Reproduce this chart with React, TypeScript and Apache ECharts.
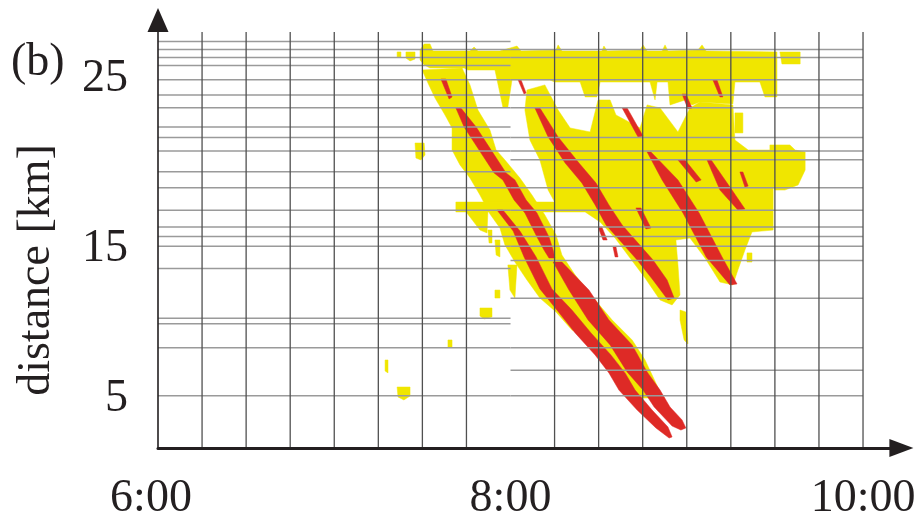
import React, { useEffect, useRef } from 'react';
import * as echarts from 'echarts';

const FONT = '"Liberation Serif", "Times New Roman", serif';
const INK = '#231f20';
const YELLOW = '#f0e600';
const RED = '#de2a26';

// axis ranges (time in minutes after midnight, distance in km)
const T_MIN = 360;
const T_MAX = 610;
const KM_MIN = 1.6875;
const KM_MAX = 27.6875;

const timeLabelValues = [360, 480, 600];
const gridLineTimes = [375, 390, 405, 420, 435, 450, 465, 495, 510, 525, 540, 555, 570, 585, 600];
const distanceLabelValues = [5, 15, 25];

// detector positions [km]
const detectorsBefore8 = [27.1, 26.6, 26.1, 25.6, 24.7, 23.75, 22.95, 21.75, 21.1, 20.25, 18.95, 17.95, 16.55, 15.5, 14.9, 14.3, 12.9, 9.8, 9.45, 7.95, 4.95];
const detectorsAfter8 = [26.6, 26.1, 24.7, 23.75, 22.95, 21.1, 20.25, 19.7, 17.95, 16.55, 15.5, 14.9, 14.3, 13.4, 11.05, 7.95, 6.55, 4.95];

// red (jam) regions: [time min, km]
const redA1 = [[456.3, 24.75], [458.0, 24.75], [460.1, 23.63], [459.1, 23.5]];
const redA = [[461.4, 22.94], [464.2, 21.75], [469.3, 20.31], [474.4, 18.88], [477.4, 18.44], [481.2, 17.19], [484.9, 16.38], [489.0, 14.88], [491.4, 14.06], [493.1, 13.56], [495.1, 13.56], [494.5, 14.06], [493.1, 14.88], [489.0, 16.38], [485.3, 17.19], [481.5, 18.44], [478.5, 18.88], [473.4, 20.31], [468.3, 21.75], [463.1, 22.94]];
const redB = [[475.4, 16.56], [480.9, 15.25], [484.6, 13.63], [490.0, 11.63], [495.8, 10.31], [502.0, 8.88], [508.8, 7.5], [513.5, 6.38], [516.9, 5.31], [523.1, 4.06], [529.5, 2.94], [534.0, 2.31], [535.0, 2.38], [533.6, 3.0], [528.2, 4.06], [522.4, 5.31], [519.0, 6.38], [514.2, 7.5], [507.4, 8.88], [500.9, 10.31], [494.1, 11.63], [488.7, 13.63], [483.2, 15.25], [477.4, 16.56]];
const redC = [[494.5, 13.31], [499.9, 11.56], [506.4, 9.69], [513.9, 8.13], [519.7, 6.44], [525.1, 5.31], [528.9, 4.25], [535.0, 3.06], [538.0, 2.81], [539.7, 2.94], [538.4, 3.44], [534.3, 4.25], [530.9, 5.31], [526.5, 6.44], [521.4, 8.13], [513.5, 9.69], [506.7, 11.56], [497.5, 13.31]];
const redD = [[488.3, 22.94], [492.8, 21.13], [498.6, 19.5], [504.3, 18.25], [508.8, 16.88], [512.5, 15.63], [518.0, 14.5], [523.1, 13.44], [528.5, 12.19], [533.6, 10.94], [535.7, 11.06], [533.3, 12.19], [528.5, 13.44], [523.4, 14.5], [518.0, 15.63], [513.5, 16.88], [509.1, 18.25], [503.3, 19.5], [496.2, 21.13], [490.0, 22.94]];
const redE = [[518.0, 22.94], [519.7, 22.94], [525.1, 21.19], [523.4, 21.13]];
const redF = [[526.5, 20.19], [531.6, 18.44], [538.7, 16.38], [546.6, 13.63], [554.7, 11.88], [557.1, 11.94], [552.0, 13.63], [544.2, 16.38], [537.0, 18.44], [527.8, 20.19]];
const redG = [[546.9, 19.69], [551.3, 17.81], [557.4, 16.56], [559.8, 16.63], [555.4, 17.81], [548.3, 19.69]];
const redH = [[537.0, 19.69], [539.4, 19.69], [544.9, 18.44], [543.2, 18.31]];
const redI = [[558.1, 18.94], [559.1, 18.94], [560.9, 18.06], [559.8, 18.0]];
const redJ = [[522.7, 16.69], [524.4, 16.69], [527.8, 15.44], [526.1, 15.38]];
const redK = [[509.8, 15.5], [511.1, 15.5], [512.9, 14.69], [511.5, 14.69]];
const redL = [[514.9, 14.25], [515.9, 14.25], [516.6, 13.63], [515.6, 13.63]];
const redN = [[538.4, 23.81], [539.7, 23.81], [541.8, 22.94], [540.4, 22.88]];
const redO = [[548.9, 24.69], [550.3, 24.69], [552.3, 23.63], [551.3, 23.63]];
const redP = [[482.6, 24.69], [483.6, 24.69], [485.3, 23.88], [484.6, 23.81]];

// yellow (synchronized traffic) regions: [time min, km]
const yellowTop = [[449.2, 26.56], [450.6, 26.94], [452.6, 26.94], [453.6, 26.5], [466.2, 26.5], [467.6, 26.75], [468.9, 26.5], [476.4, 26.5], [482.2, 26.81], [483.6, 26.5], [495.5, 26.56], [496.2, 26.88], [497.5, 26.5], [511.1, 26.5], [511.8, 26.81], [512.9, 26.5], [524.1, 26.56], [525.1, 26.88], [526.5, 26.5], [531.6, 26.5], [532.6, 26.88], [533.6, 26.5], [543.8, 26.56], [545.2, 26.88], [546.6, 26.5], [570.7, 26.44], [570.7, 23.63], [566.6, 23.63], [564.9, 24.56], [556.4, 24.56], [555.7, 23.19], [544.5, 23.31], [541.8, 23.13], [539.4, 23.44], [534.3, 23.13], [533.6, 24.56], [529.9, 24.56], [529.2, 23.44], [527.5, 24.56], [510.5, 24.56], [509.4, 23.63], [505.4, 23.63], [503.7, 24.56], [495.1, 24.56], [493.4, 24.69], [480.5, 24.69], [479.1, 23.0], [477.4, 23.0], [474.7, 25.31], [465.5, 25.31], [464.2, 25.44], [452.6, 25.44], [450.6, 25.63], [449.2, 25.94]];
const yellowTopRight = [[571.7, 26.44], [578.6, 26.44], [578.6, 25.69], [572.4, 25.69]];
const yellowDiagonal = [[463.5, 25.44], [466.2, 24.38], [468.9, 22.81], [473.0, 21.56], [475.1, 20.31], [478.1, 19.69], [483.2, 18.56], [487.3, 17.5], [491.7, 16.25], [495.5, 15.0], [497.5, 13.75], [502.0, 12.5], [508.8, 10.94], [514.6, 9.69], [521.4, 8.44], [525.8, 7.19], [528.2, 6.25], [530.9, 5.19], [532.3, 4.81], [524.1, 4.81], [521.4, 5.31], [519.0, 6.38], [514.2, 7.5], [509.4, 8.44], [500.9, 9.06], [495.5, 10.19], [490.0, 11.06], [485.6, 12.19], [481.5, 13.31], [478.1, 14.38], [476.4, 15.44], [473.0, 16.31], [469.6, 17.5], [466.2, 18.56], [462.8, 19.38], [460.1, 20.31], [460.1, 21.69], [457.7, 22.5], [454.3, 23.56], [451.9, 24.5], [449.9, 25.31]];
const yellowBar = [[461.4, 17.06], [496.9, 17.06], [496.9, 16.44], [461.4, 16.44]];
const yellowWedge = [[464.9, 16.44], [472.3, 16.44], [472.0, 15.13], [469.6, 15.31]];
const yellowRight = [[485.6, 24.06], [491.7, 24.38], [496.2, 22.81], [500.3, 21.69], [507.1, 21.44], [509.8, 23.44], [513.9, 23.44], [515.9, 22.5], [524.1, 21.69], [526.5, 23.13], [530.9, 22.94], [537.0, 21.44], [541.1, 22.94], [544.5, 23.31], [555.7, 23.13], [556.4, 20.94], [560.9, 20.31], [569.4, 20.31], [569.4, 15.31], [562.2, 15.19], [559.8, 14.06], [557.4, 12.81], [555.7, 11.88], [551.3, 12.06], [546.2, 13.56], [541.1, 14.81], [536.3, 14.69], [537.0, 13.13], [537.7, 11.25], [535.0, 10.63], [530.9, 10.94], [525.8, 12.31], [520.7, 13.56], [515.6, 14.81], [510.5, 15.81], [505.4, 16.44], [496.9, 16.44], [492.8, 17.81], [490.0, 19.69], [486.6, 20.94], [484.9, 22.81]];
const yellowRightBlob = [[568.3, 20.63], [575.1, 20.63], [576.9, 20.31], [580.3, 20.19], [580.3, 19.06], [577.9, 18.13], [573.4, 17.81], [570.0, 17.81], [568.3, 18.44]];
const yellowSmallA = [[441.4, 26.44], [442.7, 26.44], [442.7, 26.13], [441.4, 26.13]];
const yellowSmallB = [[444.4, 26.44], [447.5, 26.44], [447.5, 26.0], [445.8, 25.88], [444.4, 26.06]];
const yellowSmallC = [[447.5, 20.75], [450.6, 20.75], [450.9, 20.0], [449.5, 19.69], [447.8, 19.81]];
const yellowSmallD = [[437.3, 7.19], [438.3, 7.19], [438.3, 6.38], [437.3, 6.5]];
const yellowSmallE = [[441.4, 5.5], [445.8, 5.5], [445.8, 4.94], [443.7, 4.69], [441.7, 4.88]];
const yellowSmallF = [[458.7, 8.44], [460.1, 8.44], [460.1, 8.0], [458.7, 8.0]];
const yellowSmallG = [[469.6, 10.44], [473.7, 10.44], [473.7, 9.88], [471.0, 9.75], [469.6, 9.94]];
const yellowSmallH = [[474.7, 11.56], [476.4, 11.56], [476.4, 11.06], [474.7, 11.06]];
const yellowSmallI = [[479.1, 13.13], [482.2, 13.13], [481.5, 11.06], [479.8, 11.56]];
const yellowSmallJ1 = [[472.3, 15.31], [473.7, 15.31], [473.7, 14.5], [472.7, 14.5]];
const yellowSmallJ2 = [[474.7, 14.69], [476.4, 14.69], [476.4, 13.63], [475.1, 13.75]];
const yellowSliver = [[537.7, 10.31], [539.7, 10.19], [540.4, 8.19], [539.1, 8.44], [537.7, 9.69]];
const yellowSmallK = [[560.5, 13.88], [562.2, 13.88], [562.2, 13.31], [560.5, 13.31]];
const yellowSmallL = [[556.4, 22.63], [559.1, 22.63], [559.1, 21.38], [556.4, 21.38]];

const yellowPatches = [yellowTop, yellowTopRight, yellowDiagonal, yellowBar, yellowWedge, yellowRight, yellowRightBlob, yellowSmallA, yellowSmallB, yellowSmallC, yellowSmallD, yellowSmallE, yellowSmallF, yellowSmallG, yellowSmallH, yellowSmallI, yellowSmallJ1, yellowSmallJ2, yellowSliver, yellowSmallK, yellowSmallL];
const redPatches = [redA1, redA, redB, redC, redD, redE, redF, redG, redH, redI, redJ, redK, redL, redN, redO, redP];

const fmtTime = (v: number) => `${Math.floor(v / 60)}:${String(Math.round(v % 60)).padStart(2, '0')}`;

const polygonSeries = (polys: number[][][], color: string, z: number) => ({
  type: 'custom',
  coordinateSystem: 'cartesian2d',
  silent: true,
  z,
  data: polys.map((p) => p[0]),
  renderItem: (params: any, api: any) => ({
    type: 'polygon',
    shape: { points: polys[params.dataIndex].map((pt) => api.coord(pt)) },
    style: { fill: color, stroke: color, lineWidth: 0.5 },
  }),
});

export default function App() {
  const ref = useRef<HTMLDivElement>(null);
  useEffect(() => {
    const chart = echarts.init(ref.current!, null, { renderer: 'svg' });
    const detectorRows = [
      ...detectorsBefore8.map((k) => [360, 480, k]),
      ...detectorsAfter8.map((k) => [480, 600, k]),
    ];
    chart.setOption({
      animation: false,
      grid: { left: 158, right: 25.6, top: 32, bottom: 75, outerBoundsMode: 'none' },
      xAxis: {
        type: 'value',
        min: T_MIN,
        max: T_MAX,
        interval: 15,
        z: 6,
        axisLine: {
          show: true,
          symbol: ['none', 'triangle'],
          symbolSize: [18, 24],
          symbolOffset: [0, 9],
          lineStyle: { color: INK, width: 3 },
        },
        axisTick: { show: false },
        splitLine: { show: false },
        axisLabel: {
          customValues: timeLabelValues,
          formatter: (v: number) => (v === 360 ? `{l|${fmtTime(v)}}` : fmtTime(v)),
          rich: { l: { padding: [0, 14, 0, 0], fontSize: 46, fontFamily: FONT, color: INK } },
          fontSize: 46,
          fontFamily: FONT,
          color: INK,
          margin: 24,
        },
      },
      yAxis: {
        type: 'value',
        min: KM_MIN,
        max: KM_MAX,
        z: 6,
        name: 'distance [km]',
        nameLocation: 'middle',
        nameRotate: 90,
        nameGap: 102,
        nameTextStyle: { fontSize: 46, fontFamily: FONT, color: INK, padding: [0, 60, 0, 0] },
        axisLine: {
          show: true,
          symbol: ['none', 'triangle'],
          symbolSize: [21, 24],
          symbolOffset: [0, 12],
          lineStyle: { color: INK, width: 1.6 },
        },
        axisTick: { show: false },
        splitLine: { show: false },
        axisLabel: {
          customValues: distanceLabelValues,
          formatter: (v: number) => (v === 15 ? `{s|${v}}` : `${v}`),
          rich: { s: { padding: [20, 0, 0, 0], fontSize: 46, fontFamily: FONT, color: INK } },
          fontSize: 46,
          fontFamily: FONT,
          color: INK,
          margin: 30,
        },
      },
      graphic: [
        {
          type: 'text',
          left: 11,
          top: 36,
          style: { text: '(b)', font: `46px ${FONT}`, fill: INK },
        },
      ],
      series: [
        polygonSeries(yellowPatches, YELLOW, 1),
        polygonSeries(redPatches, RED, 2),
        {
          type: 'custom',
          coordinateSystem: 'cartesian2d',
          silent: true,
          z: 3,
          data: detectorRows,
          encode: { x: [0, 1], y: 2 },
          renderItem: (params: any, api: any) => {
            const a = api.coord([api.value(0), api.value(2)]);
            const b = api.coord([api.value(1), api.value(2)]);
            return {
              type: 'line',
              shape: { x1: a[0], y1: a[1], x2: b[0], y2: b[1] },
              style: { stroke: '#9a9a9a', lineWidth: 1.5 },
            };
          },
        },
        {
          type: 'custom',
          coordinateSystem: 'cartesian2d',
          silent: true,
          z: 4,
          data: gridLineTimes.map((t) => [t, KM_MIN, KM_MAX]),
          encode: { x: 0, y: [1, 2] },
          renderItem: (params: any, api: any) => {
            const a = api.coord([api.value(0), api.value(1)]);
            const b = api.coord([api.value(0), api.value(2)]);
            return {
              type: 'line',
              shape: { x1: a[0], y1: a[1], x2: b[0], y2: b[1] },
              style: { stroke: '#505050', lineWidth: 1.3 },
            };
          },
        },
      ],
    });
    return () => chart.dispose();
  }, []);
  return <div ref={ref} style={{ position: 'fixed', left: 0, top: 0, width: 918, height: 523 }} />;
}
